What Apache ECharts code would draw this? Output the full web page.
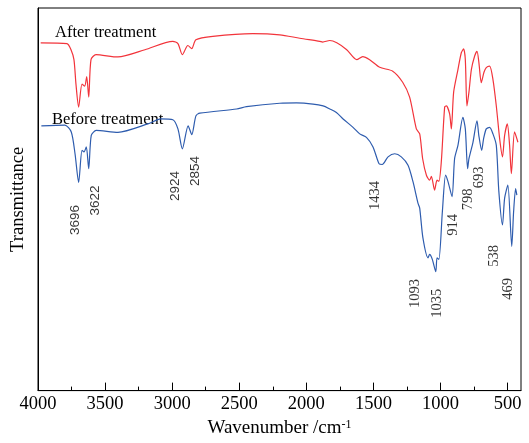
<!DOCTYPE html>
<html>
<head>
<meta charset="utf-8">
<script src="https://cdn.jsdelivr.net/npm/echarts@6/dist/echarts.min.js"></script>
<style>
  html, body { margin: 0; padding: 0; background: #fff; }
  #chart { width: 529px; height: 443px; }
</style>
</head>
<body>
<div id="chart"></div>
<script>
// After treatment (red) - wavenumber / transmittance (arb. units)
const afterX = [3980, 3784, 3754, 3732, 3717, 3697, 3672, 3652, 3637, 3622, 3605, 3568, 3404, 3203, 2995, 2957, 2924, 2883, 2854, 2823, 2697, 2399, 2198, 2049, 1900, 1878, 1826, 1773, 1699, 1624, 1580, 1528, 1453, 1356, 1282, 1230, 1180, 1155, 1133, 1105, 1081, 1068, 1044, 1026, 1012, 994, 969, 956, 932, 919, 902, 870, 845, 828, 815, 803, 788, 770, 746, 728, 714, 696, 676, 659, 634, 609, 584, 559, 538, 522, 502, 485, 472, 448, 423];
const afterY = [90.9, 90.7, 89.1, 86.5, 80.1, 74.1, 80.1, 79.6, 82.1, 76.7, 86.5, 87.8, 87.2, 89.1, 91.3, 90.7, 87.8, 90.2, 89.4, 91.7, 92.6, 93.3, 93.0, 92.1, 91.3, 91.1, 91.5, 90.9, 89.1, 86.5, 87.3, 86.5, 84.5, 83.5, 80.6, 76.7, 68.4, 67.1, 60.6, 56.3, 55.0, 56.0, 52.4, 55.0, 54.7, 59.8, 74.1, 74.4, 72.3, 68.4, 78.0, 83.9, 88.3, 89.3, 86.5, 74.4, 78.0, 83.9, 87.4, 88.7, 85.8, 80.5, 83.2, 84.4, 84.8, 81.3, 74.4, 65.8, 61.1, 66.7, 69.7, 64.1, 56.7, 67.6, 64.9];

// Before treatment (blue)
const beforeX = [3975, 3801, 3752, 3724, 3697, 3672, 3657, 3640, 3622, 3603, 3566, 3404, 3181, 3084, 2995, 2957, 2924, 2881, 2854, 2823, 2794, 2520, 2446, 2198, 2073, 1950, 1875, 1825, 1776, 1726, 1652, 1602, 1552, 1503, 1458, 1434, 1391, 1341, 1292, 1242, 1205, 1168, 1155, 1131, 1093, 1081, 1061, 1035, 1026, 1012, 986, 962, 944, 914, 895, 870, 833, 815, 798, 788, 758, 728, 714, 693, 679, 659, 634, 609, 584, 565, 538, 522, 498, 469, 455, 440, 431];
const beforeY = [69.2, 69.4, 67.6, 61.9, 54.4, 62.8, 62.4, 63.7, 58.0, 66.7, 68.0, 67.5, 69.7, 71.0, 70.8, 68.4, 63.2, 69.2, 66.9, 71.8, 72.5, 73.6, 74.2, 75.1, 75.2, 74.9, 74.4, 73.6, 72.7, 71.0, 68.8, 67.1, 66.2, 63.7, 59.3, 59.1, 61.1, 61.9, 61.1, 58.9, 54.6, 49.0, 47.7, 39.9, 34.7, 35.6, 34.3, 31.1, 34.7, 34.3, 46.8, 56.3, 54.6, 50.7, 60.6, 64.1, 71.4, 68.4, 58.0, 60.6, 64.9, 70.5, 66.6, 62.8, 65.8, 68.4, 68.8, 67.1, 64.1, 52.0, 43.3, 50.3, 53.7, 37.7, 46.8, 52.8, 51.1];

// peak annotations
const peakNames = ['3696', '3622', '2924', '2854', '1434', '1093', '1035', '914', '798', '693', '538', '469'];
const peakLabelX = [3724, 3575, 2975, 2831, 1490, 1185, 1021, 909, 797, 708, 597, 493];
const peakLabelY = [44.6, 49.7, 53.5, 57.4, 51.0, 25.4, 22.8, 43.3, 50.0, 55.7, 35.2, 26.6];
const sansPeaks = ['3696', '3622', '2924', '2854'];

const majorTicks = [500, 1000, 1500, 2000, 2500, 3000, 3500, 4000];
const minorTicks = [750, 1250, 1750, 2250, 2750, 3250, 3750];

const serif = '"Liberation Serif", "Times New Roman", serif';

const chart = echarts.init(document.getElementById('chart'));

const zip = (xs, ys) => xs.map((x, i) => [x, ys[i]]);

const peakData = peakNames.map((n, i) => ({
    name: n,
    value: [peakLabelX[i], peakLabelY[i]],
    label: sansPeaks.includes(n)
        ? { fontFamily: '"Liberation Sans", Arial, sans-serif', fontSize: 13.5 }
        : { fontFamily: serif, fontSize: 14.5 }
}));

const option = {
    animation: false,
    backgroundColor: '#fff',
    grid: {
        left: 38, right: 8, top: 8, bottom: 49,
        show: true,
        borderColor: '#000',
        borderWidth: 1
    },
    xAxis: [
        {
            type: 'value',
            min: 400,
            max: 4000,
            inverse: true,
            position: 'bottom',
            name: 'Wavenumber /cm{sup|-1}',
            nameLocation: 'middle',
            nameGap: 27,
            nameTextStyle: {
                fontFamily: serif,
                fontSize: 19,
                color: '#000',
                rich: {
                    sup: { fontFamily: serif, fontSize: 12, color: '#000', verticalAlign: 'top', padding: [0, 0, 8, 0] }
                }
            },
            axisLine: { lineStyle: { color: '#000', width: 1 } },
            axisTick: { inside: true, length: 8, customValues: majorTicks, lineStyle: { color: '#000' } },
            axisLabel: {
                customValues: majorTicks,
                formatter: v => String(v),
                fontFamily: serif,
                fontSize: 18.5,
                color: '#000',
                margin: 4
            },
            splitLine: { show: false }
        },
        {
            type: 'value',
            min: 400,
            max: 4000,
            inverse: true,
            position: 'bottom',
            axisLine: { show: false },
            axisTick: { inside: true, length: 4, customValues: minorTicks, lineStyle: { color: '#000' } },
            axisLabel: { show: false },
            splitLine: { show: false }
        }
    ],
    yAxis: {
        type: 'value',
        min: 0,
        max: 100,
        name: 'Transmittance',
        nameLocation: 'middle',
        nameGap: 10,
        nameTextStyle: { fontFamily: serif, fontSize: 18.5, color: '#000' },
        axisLine: { show: true, lineStyle: { color: '#000' } },
        axisTick: { show: false },
        axisLabel: { show: false },
        splitLine: { show: false }
    },
    graphic: [
        { type: 'text', left: 55, top: 24, style: { text: 'After treatment', font: '16.5px ' + serif, fill: '#000' } },
        { type: 'text', left: 52, top: 111, style: { text: 'Before treatment', font: '16.5px ' + serif, fill: '#000' } }
    ],
    series: [
        {
            name: 'After treatment',
            type: 'line',
            data: zip(afterX, afterY),
            showSymbol: false,
            smooth: 0.25,
            lineStyle: { color: '#F2343B', width: 1.2 }
        },
        {
            name: 'Before treatment',
            type: 'line',
            data: zip(beforeX, beforeY),
            showSymbol: false,
            smooth: 0.25,
            lineStyle: { color: '#2E5CAE', width: 1.2 }
        },
        {
            type: 'scatter',
            data: peakData,
            symbolSize: 0,
            silent: true,
            label: {
                show: true,
                position: 'inside',
                rotate: 90,
                color: '#000',
                formatter: p => p.name
            }
        }
    ]
};

chart.setOption(option);
</script>
</body>
</html>
